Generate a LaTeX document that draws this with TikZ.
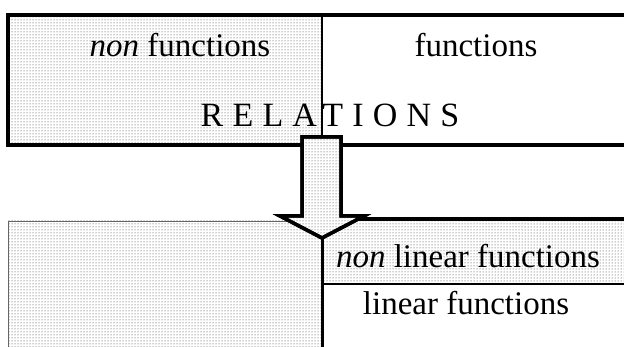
\documentclass[tikz,border=0pt]{standalone}
\usepackage{fontspec}
\setmainfont{Liberation Serif}
\usetikzlibrary{patterns}
\tikzset{
  stipple/.style={fill=white, postaction={pattern=dots, pattern color=black!80}},
  lbl/.style={inner sep=0pt, anchor=center, font=\fontsize{33}{36}\selectfont},
}
\begin{document}
\begin{tikzpicture}[x=1pt,y=-1pt]
\useasboundingbox (0,0) rectangle (624,347);
\clip (0,0) rectangle (624,347);
% top box
\fill[stipple] (8,15) rectangle (322,145);
\draw[line width=1.2pt] (322,15) -- (322,145);
\draw[line width=3.5pt] (8,15) rectangle (640,145);
% bottom left box
\fill[stipple] (8,221) rectangle (322,360);
\draw[line width=0.8pt, black!60] (8,360) -- (8,221) -- (322,221);
% bottom right band
\fill[stipple] (322,219) rectangle (640,284);
\draw[line width=1.5pt] (322,284) -- (640,284);
\draw[line width=3.5pt] (340,219) -- (640,219);
\draw[line width=3pt] (322,236) -- (322,360);
% arrow
\filldraw[stipple, draw=black, line width=3.5pt, line join=miter]
  (302,137) -- (341,137) -- (341,216) -- (364,216) -- (322,238) -- (280,216) -- (302,216) -- cycle;
\draw[line width=3.5pt, line join=miter]
  (302,137) -- (341,137) -- (341,216) -- (364,216) -- (322,238) -- (280,216) -- (302,216) -- cycle;
% labels
\node[lbl] (nf) at (180,45) {\textit{non} functions};
\node[lbl] (f) at (476,45) {functions};
\node[lbl, font=\fontsize{34}{36}\selectfont\addfontfeature{LetterSpace=27}] (rel) at (330,115) {RELATIONS};
\node[lbl] (nlf) at (468,256) {\textit{non} linear functions};
\node[lbl] (lf) at (466,303) {linear functions};
\end{tikzpicture}
\end{document}
